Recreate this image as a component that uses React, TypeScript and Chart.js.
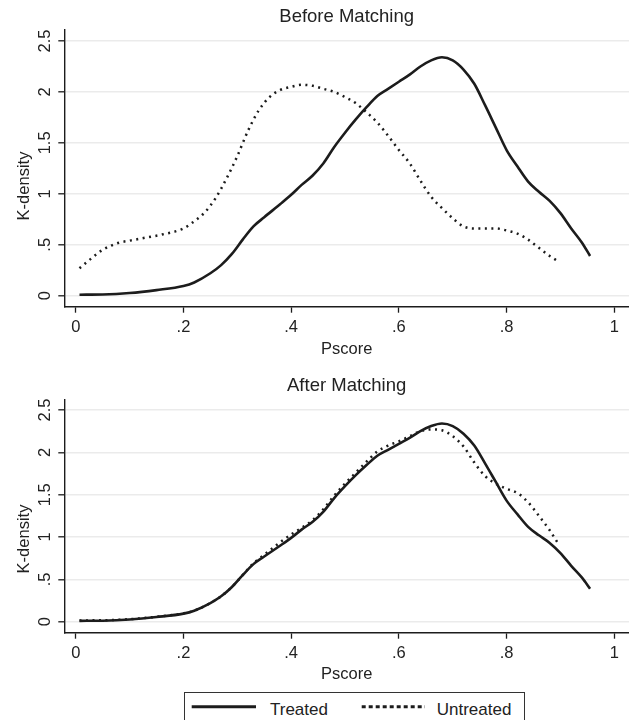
import React, { useEffect, useRef } from "react";
import { Chart, registerables } from "chart.js";

Chart.register(...registerables);

// ---- Data ----
const xTicks = [0, 0.2, 0.4, 0.6, 0.8, 1];
const xTickLabels = ["0", ".2", ".4", ".6", ".8", "1"];
const yTicks = [0, 0.5, 1, 1.5, 2, 2.5];
const yTickLabels = ["0", ".5", "1", "1.5", "2", "2.5"];
const seriesNames = ["Treated", "Untreated"];
const panelTitles = ["Before Matching", "After Matching"];
const xAxisTitle = "Pscore";
const yAxisTitle = "K-density";

const treatedX = [0.007, 0.05, 0.1, 0.15, 0.2, 0.22, 0.25, 0.27, 0.29, 0.31, 0.33, 0.35, 0.38, 0.4, 0.42, 0.44, 0.46, 0.48, 0.5, 0.52, 0.54, 0.56, 0.58, 0.6, 0.62, 0.64, 0.66, 0.68, 0.7, 0.72, 0.74, 0.76, 0.78, 0.8, 0.82, 0.84, 0.86, 0.88, 0.9, 0.92, 0.94, 0.955];
const treatedY = [0.01, 0.012, 0.026, 0.055, 0.095, 0.13, 0.22, 0.3, 0.41, 0.55, 0.68, 0.77, 0.9, 0.99, 1.09, 1.18, 1.3, 1.46, 1.6, 1.73, 1.85, 1.96, 2.03, 2.1, 2.17, 2.25, 2.31, 2.34, 2.31, 2.22, 2.08, 1.87, 1.65, 1.43, 1.27, 1.12, 1.02, 0.93, 0.81, 0.66, 0.52, 0.39];

const untreatedBeforeX = [0.007, 0.03, 0.05, 0.08, 0.1, 0.13, 0.16, 0.2, 0.22, 0.24, 0.26, 0.28, 0.3, 0.32, 0.34, 0.36, 0.38, 0.4, 0.42, 0.44, 0.46, 0.48, 0.5, 0.52, 0.54, 0.56, 0.58, 0.6, 0.62, 0.64, 0.66, 0.68, 0.7, 0.72, 0.74, 0.76, 0.78, 0.8, 0.82, 0.84, 0.86, 0.88, 0.895];
const untreatedBeforeY = [0.27, 0.37, 0.45, 0.52, 0.54, 0.57, 0.6, 0.66, 0.73, 0.82, 0.96, 1.15, 1.37, 1.62, 1.82, 1.95, 2.02, 2.05, 2.07, 2.06, 2.03, 2.0, 1.95, 1.89, 1.8, 1.7, 1.57, 1.43, 1.3, 1.13, 0.97, 0.86, 0.76, 0.68, 0.66, 0.66, 0.66, 0.64, 0.61, 0.55, 0.47, 0.39, 0.34];

const untreatedAfterX = [0.007, 0.05, 0.1, 0.15, 0.2, 0.22, 0.25, 0.27, 0.29, 0.31, 0.33, 0.35, 0.38, 0.4, 0.42, 0.44, 0.46, 0.48, 0.5, 0.52, 0.54, 0.56, 0.58, 0.6, 0.62, 0.64, 0.66, 0.68, 0.7, 0.72, 0.74, 0.76, 0.78, 0.8, 0.82, 0.84, 0.86, 0.88, 0.895];
const untreatedAfterY = [0.015, 0.017, 0.03, 0.058, 0.098, 0.13, 0.22, 0.3, 0.41, 0.55, 0.69, 0.79, 0.94, 1.03, 1.11, 1.2, 1.33, 1.49, 1.63, 1.76, 1.89, 2.01, 2.08, 2.13, 2.19, 2.25, 2.27, 2.26, 2.19, 2.07, 1.88, 1.72, 1.63, 1.57, 1.52, 1.41, 1.25, 1.08, 0.93];

// ---- Styles ----
const FONT = "'Liberation Sans', Arial, Helvetica, sans-serif";
const TEXT = "#222";
const LINE = "#1c1c1c";
const GRID = "#ebebeb";

const toPoints = (xs: number[], ys: number[]) => xs.map((x, i) => ({ x, y: ys[i] }));

const panelText = {
  id: "panelText",
  afterDraw(chart: any, _args: any, opts: any) {
    const { ctx, chartArea } = chart;
    const ys = chart.scales.y;
    ctx.save();
    ctx.fillStyle = TEXT;
    ctx.font = `18.5px ${FONT}`;
    ctx.textAlign = "center";
    ctx.textBaseline = "middle";
    ctx.fillText(opts.title, (chartArea.left + chartArea.right) / 2, opts.titleY);
    ctx.font = `16.5px ${FONT}`;
    ctx.textBaseline = "alphabetic";
    yTicks.forEach((v, i) => {
      const py = ys.getPixelForValue(v);
      ctx.save();
      ctx.translate(opts.tickBaseX, py);
      ctx.rotate(-Math.PI / 2);
      ctx.fillText(yTickLabels[i], 0, 0);
      ctx.restore();
    });
    ctx.save();
    ctx.translate(opts.yTitleX, opts.yTitleY);
    ctx.rotate(-Math.PI / 2);
    ctx.fillText(yAxisTitle, 0, 0);
    ctx.restore();
    ctx.restore();
  },
};

type PanelProps = {
  title: string;
  untreatedX: number[];
  untreatedY: number[];
  height: number;
  padTop: number;
  xScaleHeight: number;
  yMin: number;
  yMax: number;
  titleY: number;
  yTitleY: number;
  xTitlePadBottom: number;
};

function Panel(p: PanelProps) {
  const ref = useRef<HTMLCanvasElement | null>(null);
  useEffect(() => {
    if (!ref.current) return;
    const chart = new Chart(ref.current, {
      type: "line",
      data: {
        datasets: [
          {
            label: seriesNames[0],
            data: toPoints(treatedX, treatedY),
            borderColor: LINE,
            borderWidth: 2.6,
            pointRadius: 0,
            cubicInterpolationMode: "monotone",
            fill: false,
          },
          {
            label: seriesNames[1],
            data: toPoints(p.untreatedX, p.untreatedY),
            borderColor: LINE,
            borderWidth: 2.5,
            borderDash: [2, 4.5],
            pointRadius: 0,
            cubicInterpolationMode: "monotone",
            fill: false,
          },
        ],
      },
      options: {
        responsive: false,
        animation: false,
        events: [],
        layout: { padding: { top: p.padTop, left: 0, right: 0, bottom: 0 } },
        plugins: {
          legend: { display: false },
          title: { display: false },
          tooltip: { enabled: false },
          panelText: { title: p.title, titleY: p.titleY, tickBaseX: 50, yTitleX: 28.5, yTitleY: p.yTitleY },
        } as any,
        scales: {
          x: {
            type: "linear",
            min: -0.0212,
            max: 1.0273,
            afterBuildTicks: (s: any) => {
              s.ticks = xTicks.map((v) => ({ value: v }));
            },
            afterFit: (s: any) => {
              s.height = p.xScaleHeight;
            },
            ticks: {
              autoSkip: false,
              maxRotation: 0,
              padding: 5,
              color: TEXT,
              font: { family: FONT, size: 16.5 },
              callback: (_v: any, i: number) => xTickLabels[i],
            },
            grid: { drawOnChartArea: false, drawTicks: true, tickLength: 6, tickColor: LINE, tickWidth: 1.3 },
            border: { display: true, color: LINE, width: 1.4 },
            title: {
              display: true,
              text: xAxisTitle,
              color: TEXT,
              font: { family: FONT, size: 16.5 },
              padding: { top: 0, bottom: p.xTitlePadBottom },
            },
          },
          y: {
            type: "linear",
            min: p.yMin,
            max: p.yMax,
            afterBuildTicks: (s: any) => {
              s.ticks = yTicks.map((v) => ({ value: v }));
            },
            afterFit: (s: any) => {
              s.width = 64.3;
            },
            ticks: { display: false },
            grid: { color: GRID, lineWidth: 1.6, drawTicks: true, tickLength: 6, tickColor: LINE, tickWidth: 1.3 },
            border: { display: true, color: LINE, width: 1.4 },
            title: { display: false },
          },
        },
      },
      plugins: [panelText as any],
    });
    return () => chart.destroy();
  }, []);
  return <canvas ref={ref} width={629} height={p.height} style={{ display: "block", width: 629, height: p.height }} />;
}

function Legend() {
  return (
    <svg width={341} height={28} style={{ position: "absolute", left: 184, top: 692, display: "block" }}>
      <rect x={0.5} y={0.5} width={340} height={60} fill="#fff" stroke="#333" strokeWidth={1} />
      <line x1={7.7} y1={14.7} x2={72} y2={14.7} stroke={LINE} strokeWidth={3} />
      <text x={86} y={23} fontFamily={FONT} fontSize={17} fill={TEXT}>{seriesNames[0]}</text>
      <line x1={177.7} y1={14.7} x2={241} y2={14.7} stroke={LINE} strokeWidth={3} strokeDasharray="4 3" />
      <text x={252.7} y={23} fontFamily={FONT} fontSize={17} fill={TEXT}>{seriesNames[1]}</text>
    </svg>
  );
}

export default function App() {
  return (
    <div style={{ position: "absolute", left: 0, top: 0, width: 629, height: 720, overflow: "hidden", background: "#fff" }}>
      <div style={{ position: "absolute", left: 0, top: 0 }}>
        <Panel
          title={panelTitles[0]}
          untreatedX={untreatedBeforeX}
          untreatedY={untreatedBeforeY}
          height={360}
          padTop={30}
          xScaleHeight={53.3}
          yMin={-0.108}
          yMax={2.608}
          titleY={17}
          yTitleY={186}
          xTitlePadBottom={1}
        />
      </div>
      <div style={{ position: "absolute", left: 0, top: 360 }}>
        <Panel
          title={panelTitles[1]}
          untreatedX={untreatedAfterX}
          untreatedY={untreatedAfterY}
          height={330}
          padTop={40}
          xScaleHeight={57.3}
          yMin={-0.13}
          yMax={2.618}
          titleY={25.8}
          yTitleY={179}
          xTitlePadBottom={6.1}
        />
      </div>
      <Legend />
    </div>
  );
}
